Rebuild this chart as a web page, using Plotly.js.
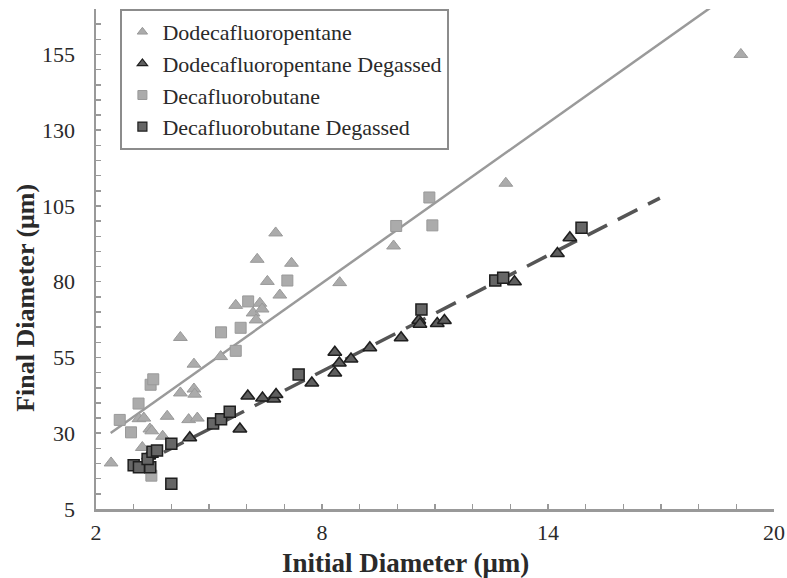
<!DOCTYPE html>
<html>
<head>
<meta charset="utf-8">
<script src="https://cdn.plot.ly/plotly-3.0.1.min.js"></script>
<style>html,body{margin:0;padding:0;background:#fff;}#chart{width:787px;height:578px;}</style>
</head>
<body>
<div id="chart"></div>
<script>
// Dodecafluoropentane (light triangles)
const dodecaX = [2.40, 3.23, 3.14, 3.27, 3.43, 3.48, 3.77, 3.89, 4.24, 4.24, 4.46, 4.60, 4.60, 4.62, 4.69, 5.31, 5.71, 6.17, 6.25, 6.28, 6.35, 6.41, 6.55, 6.77, 6.88, 7.19, 8.47, 9.90, 12.88, 19.12];
const dodecaY = [20.2, 25.3, 34.8, 35.0, 31.4, 30.8, 29.0, 35.6, 61.6, 43.3, 34.5, 52.8, 44.6, 42.9, 35.0, 55.3, 72.2, 69.7, 67.4, 87.4, 72.9, 71.0, 80.1, 96.1, 75.6, 86.1, 79.7, 91.8, 112.5, 155.0];
// Dodecafluoropentane Degassed (dark triangles)
const dodecaDegX = [3.40, 4.49, 5.82, 6.03, 6.42, 6.72, 6.78, 7.73, 8.34, 8.34, 8.46, 8.77, 9.27, 10.10, 10.57, 10.60, 11.06, 11.25, 13.11, 14.25, 14.58];
const dodecaDegY = [22.5, 28.5, 31.4, 42.3, 41.6, 41.3, 42.8, 46.6, 56.7, 49.9, 53.2, 54.5, 58.2, 61.5, 67.3, 66.0, 66.2, 67.2, 80.0, 89.3, 94.5];
// Decafluorobutane (light squares)
const decaX = [2.63, 2.93, 3.13, 3.45, 3.52, 3.47, 5.32, 5.71, 5.84, 6.04, 7.08, 9.97, 10.85, 10.93];
const decaY = [34.4, 30.3, 39.8, 46.0, 47.8, 16.0, 63.3, 57.2, 64.8, 73.5, 80.4, 98.4, 107.8, 98.6];
// Decafluorobutane Degassed (dark squares)
const decaDegX = [3.00, 3.14, 3.44, 3.37, 3.50, 3.62, 4.00, 4.00, 5.11, 5.32, 5.55, 7.38, 10.64, 12.60, 12.81, 14.89];
const decaDegY = [19.4, 18.8, 18.8, 21.5, 23.9, 24.3, 26.5, 13.3, 33.2, 34.6, 37.1, 49.4, 70.8, 80.4, 81.3, 97.8];
// Trend lines
const lightTrendX = [2.39, 18.31];
const lightTrendY = [30.1, 170.4];
const darkTrendX = [3.0, 16.97];
const darkTrendY = [18.6, 107.6];

const names = ["Dodecafluoropentane", "Dodecafluoropentane Degassed", "Decafluorobutane", "Decafluorobutane Degassed"];

const lightFill = "#ababab", lightLine = "#999999";
const darkFill = "#5e5e5e", darkLine = "#1e1e1e";
const serif = "Liberation Serif";

const traces = [
  {x: lightTrendX, y: lightTrendY, mode: "lines", line: {color: "#9a9a9a", width: 2.5}, showlegend: false, hoverinfo: "skip"},
  {x: darkTrendX, y: darkTrendY, mode: "lines", line: {color: "#555555", width: 3.5, dash: "22px,12px"}, showlegend: false, hoverinfo: "skip"},
  {x: dodecaX, y: dodecaY, mode: "markers", name: names[0], showlegend: false,
   marker: {symbol: "triangle-up", size: 12, color: lightFill, line: {color: lightLine, width: 1}}},
  {x: decaX, y: decaY, mode: "markers", name: names[2], showlegend: false,
   marker: {symbol: "square", size: 11, color: lightFill, line: {color: lightLine, width: 1}}},
  {x: dodecaDegX, y: dodecaDegY, mode: "markers", name: names[1], showlegend: false,
   marker: {symbol: "triangle-up", size: 12, color: darkFill, line: {color: darkLine, width: 1.5}}},
  {x: decaDegX, y: decaDegY, mode: "markers", name: names[3], showlegend: false,
   marker: {symbol: "square", size: 11, color: "#666666", line: {color: darkLine, width: 1.5}}},
  // legend entries
  {x: [null], y: [null], mode: "markers", name: names[0], legendgroup: "a",
   marker: {symbol: "triangle-up", size: 9, color: lightFill, line: {color: lightLine, width: 1}}},
  {x: [null], y: [null], mode: "markers", name: names[1], legendgroup: "b",
   marker: {symbol: "triangle-up", size: 9, color: darkFill, line: {color: darkLine, width: 1.2}}},
  {x: [null], y: [null], mode: "markers", name: names[2], legendgroup: "c",
   marker: {symbol: "square", size: 9, color: lightFill, line: {color: lightLine, width: 1}}},
  {x: [null], y: [null], mode: "markers", name: names[3], legendgroup: "d",
   marker: {symbol: "square", size: 9, color: "#666666", line: {color: darkLine, width: 1.2}}}
];

const axisCommon = {
  showgrid: false, zeroline: false, showline: true, linecolor: "#999999", linewidth: 2.5,
  ticks: "inside", ticklen: 5, tickwidth: 1.5, tickcolor: "#999999",
  tickfont: {family: serif, size: 22, color: "#2a2a2a"},
  minor: {ticks: "inside", ticklen: 5, tickwidth: 1.5, tickcolor: "#999999", showgrid: false}
};

const layout = {
  width: 787, height: 578,
  margin: {l: 96, r: 13, t: 9, b: 69},
  paper_bgcolor: "#ffffff", plot_bgcolor: "#ffffff",
  font: {family: serif, color: "#2a2a2a"},
  xaxis: Object.assign({}, axisCommon, {
    range: [2, 20], tick0: 2, dtick: 6, ticklabelstandoff: 2,
    minor: Object.assign({}, axisCommon.minor, {dtick: 1})
  }),
  yaxis: Object.assign({}, axisCommon, {
    range: [5, 170], tick0: 5, dtick: 25, ticklabelstandoff: 14,
    minor: Object.assign({}, axisCommon.minor, {dtick: 5})
  }),
  legend: {
    x: 0.036, y: 1.0, xanchor: "left", yanchor: "top",
    bgcolor: "#ffffff", bordercolor: "#8c8c8c", borderwidth: 2,
    font: {family: serif, size: 22, color: "#2a2a2a"},
    itemwidth: 30, tracegroupgap: 7, traceorder: "normal"
  },
  annotations: [
    {text: "<b>Initial Diameter (μm)</b>", xref: "paper", yref: "paper", x: 0.456, y: -0.108,
     xanchor: "center", yanchor: "middle", showarrow: false, font: {family: serif, size: 27, color: "#2a2a2a"}},
    {text: "<b>Final Diameter (μm)</b>", xref: "paper", yref: "paper", x: -0.105, y: 0.422,
     xanchor: "center", yanchor: "middle", textangle: -90, showarrow: false, font: {family: serif, size: 26, color: "#2a2a2a"}}
  ]
};

Plotly.newPlot("chart", traces, layout, {displayModeBar: false, staticPlot: true});
</script>
</body>
</html>
